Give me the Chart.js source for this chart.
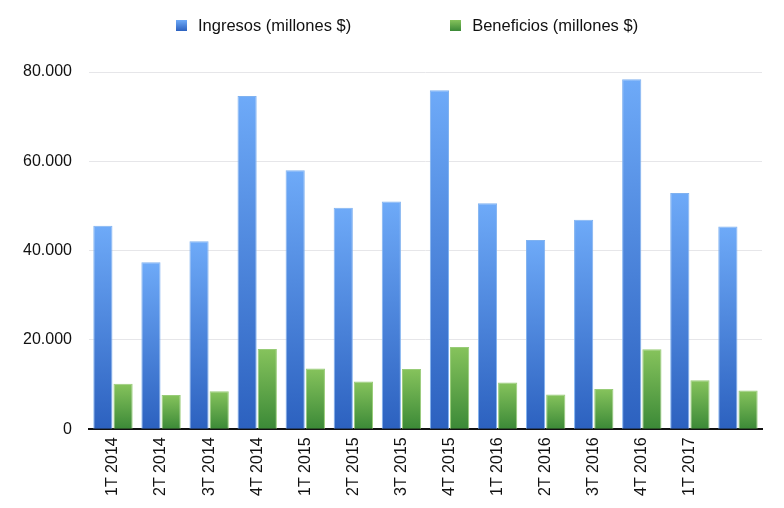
<!DOCTYPE html>
<html>
<head>
<meta charset="utf-8">
<script src="https://cdn.jsdelivr.net/npm/chart.js@4"></script>
<style>
  body { margin: 0; background: #fff; }
  #wrap { position: relative; width: 784px; height: 508px; }
  #legend { position: absolute; top: 16px; left: 176px; display: flex; font: 16.5px "Liberation Sans", Arial, sans-serif; color: #111; }
  .item { display: flex; align-items: center; margin-right: 99px; }
  .box { width: 11px; height: 11px; margin-right: 11px; }
</style>
</head>
<body>
<div id="wrap">
  <div id="legend"></div>
  <canvas id="revenueChart" width="784" height="508"></canvas>
</div>
<script>
const quarters = ['1T 2014', '2T 2014', '3T 2014', '4T 2014', '1T 2015', '2T 2015', '3T 2015',
  '4T 2015', '1T 2016', '2T 2016', '3T 2016', '4T 2016', '1T 2017', '']
const ingresos = [45600, 37400, 42100, 74600, 58000, 49600, 51000, 75900, 50600, 42400, 46900, 78400, 52900, 45400]
const beneficios = [10200, 7700, 8500, 18000, 13600, 10700, 13500, 18400, 10500, 7800, 9000, 17900, 11000, 8700]
const yTicks = [0, 20000, 40000, 60000, 80000]

const blue = { top: '#6eaaf8', bottom: '#2c61bf', border: '#80b2f0' }
const green = { top: '#86c35c', bottom: '#3b8937', border: '#98cc78' }

// each bar gets its own light-to-dark gradient
function barGradient(col) {
    return function(ctx) {
        const chart = ctx.chart
        const y = chart.scales.y
        if (!y || ctx.type != 'data') return col.bottom
        const top = y.getPixelForValue(ctx.raw)
        const base = y.getPixelForValue(0)
        if (!isFinite(top) || !isFinite(base) || top == base) return col.bottom
        const g = chart.ctx.createLinearGradient(0, top, 0, base)
        g.addColorStop(0, col.top)
        g.addColorStop(1, col.bottom)
        return g
    }
}

const datasets = [
    { label: 'Ingresos (millones $)', data: ingresos, col: blue },
    { label: 'Beneficios (millones $)', data: beneficios, col: green },
].map(d => ({
    label: d.label,
    data: d.data,
    backgroundColor: barGradient(d.col),
    borderColor: d.col.border,
    borderWidth: 1,
    categoryPercentage: 0.84,
    barPercentage: 0.95,
}))

// html legend
const legendEl = document.getElementById('legend')
for (const d of [[datasets[0].label, blue], [datasets[1].label, green]]) {
    const item = document.createElement('div')
    item.className = 'item'
    item.innerHTML = '<span class="box" style="background:linear-gradient(' + d[1].top + ',' + d[1].bottom + ')"></span>'
    item.appendChild(document.createTextNode(d[0]))
    legendEl.appendChild(item)
}

new Chart('revenueChart', {
    type: 'bar',
    data: { labels: quarters, datasets: datasets },
    options: {
        responsive: false,
        animation: false,
        layout: { padding: { top: 72, left: 6, right: 22, bottom: 12 } },
        plugins: {
            legend: { display: false },
            tooltip: { enabled: false },
        },
        scales: {
            x: {
                grid: { display: false },
                border: { display: true, color: '#111', width: 2 },
                ticks: {
                    font: { family: 'Liberation Sans', size: 16 },
                    color: '#111',
                    minRotation: 90,
                    maxRotation: 90,
                    autoSkip: false,
                    padding: 0,
                },
            },
            y: {
                min: 0,
                max: 80000,
                afterBuildTicks: axis => { axis.ticks = yTicks.map(v => ({ value: v })) },
                grid: { color: '#e6e6e9', lineWidth: 1, drawTicks: false },
                border: { display: false },
                ticks: {
                    font: { family: 'Liberation Sans', size: 16 },
                    color: '#111',
                    padding: 17,
                    callback: v => String(v).replace(/\B(?=(\d{3})+(?!\d))/g, '.'),
                },
            },
        },
    },
})
</script>
</body>
</html>
